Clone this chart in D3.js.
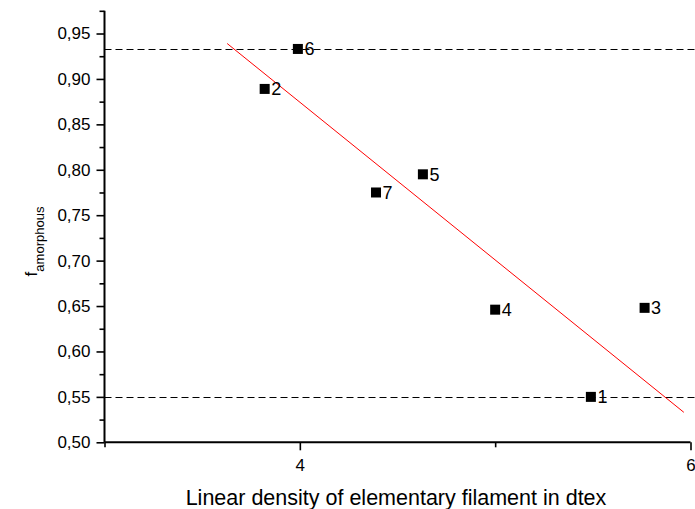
<!DOCTYPE html>
<html>
<head>
<meta charset="utf-8">
<script src="https://cdn.jsdelivr.net/npm/d3@7"></script>
<style>
  html, body { margin: 0; padding: 0; background: #fff; }
  svg { display: block; font-family: "Liberation Sans", Arial, sans-serif; }
</style>
</head>
<body>
<svg id="chart" width="695" height="509"></svg>
<script>
// ---- data ----
const pointLabels = ["1", "2", "3", "4", "5", "6", "7"];
const pointX = [5.49, 3.82, 5.765, 5.00, 4.63, 3.99, 4.39];
const pointY = [0.550, 0.889, 0.648, 0.646, 0.795, 0.933, 0.775];
const fitX = [3.628, 5.966];
const fitY = [0.939, 0.533];
const refLevels = [0.933, 0.55];
const xMajorTicks = [4, 6];
const xMinorTicks = [3, 5];
const yMajorTicks = [0.50, 0.55, 0.60, 0.65, 0.70, 0.75, 0.80, 0.85, 0.90, 0.95];
const yMinorTicks = [0.525, 0.575, 0.625, 0.675, 0.725, 0.775, 0.825, 0.875, 0.925, 0.975];
const xTitle = "Linear density of elementary filament in dtex";
const yTitleMain = "f";
const yTitleSub = "amorphous";

// ---- layout ----
const W = 695, H = 509;
const svg = d3.select("#chart");
const x = d3.scaleLinear().domain([3, 6]).range([104.5, 690.5]);
const y = d3.scaleLinear().domain([0.5, 0.975]).range([442.3, 10.8]);
const fmt = d => d3.format(".2f")(d).replace(".", ",");

// dashed reference lines
svg.append("g").selectAll("line").data(refLevels).join("line")
  .attr("x1", x(3)).attr("x2", W)
  .attr("y1", d => Math.round(y(d)) + 0.5).attr("y2", d => Math.round(y(d)) + 0.5)
  .attr("stroke", "#000").attr("stroke-width", 1.2).attr("stroke-dasharray", "7,4");

// fit line
svg.append("line")
  .attr("x1", x(fitX[0])).attr("y1", y(fitY[0]))
  .attr("x2", x(fitX[1])).attr("y2", y(fitY[1]))
  .attr("stroke", "#ff0000").attr("stroke-width", 1);

// y axis
const yAxis = svg.append("g").attr("transform", `translate(${x(3)},0)`)
  .call(d3.axisLeft(y).tickValues(yMajorTicks).tickFormat(fmt).tickSize(8).tickPadding(6));
svg.append("g").attr("transform", `translate(${x(3)},0)`)
  .call(d3.axisLeft(y).tickValues(yMinorTicks).tickFormat("").tickSize(5))
  .select(".domain").remove();

// x axis
const xAxis = svg.append("g").attr("transform", `translate(0,${y(0.5)})`)
  .call(d3.axisBottom(x).tickValues(xMajorTicks).tickFormat(d3.format("d")).tickSize(8).tickPadding(9));
svg.append("g").attr("transform", `translate(0,${y(0.5)})`)
  .call(d3.axisBottom(x).tickValues(xMinorTicks).tickFormat("").tickSize(5))
  .select(".domain").remove();

svg.selectAll(".domain").attr("stroke-width", 2).attr("d", null);
yAxis.select(".domain").attr("d", `M0,${y(0.975)}V${y(0.5)}`);
xAxis.select(".domain").attr("d", `M${x(3)},0H${x(6)}`);
svg.selectAll(".tick line").attr("stroke-width", 1.6);
svg.selectAll(".tick text").attr("font-size", 17).attr("fill", "#000")
  .attr("font-family", "'Liberation Sans', Arial, sans-serif");

// points
const pts = pointLabels.map((l, i) => ({ l, x: pointX[i], y: pointY[i] }));
svg.append("g").selectAll("rect").data(pts).join("rect")
  .attr("x", d => x(d.x) - 5).attr("y", d => y(d.y) - 5)
  .attr("width", 10).attr("height", 10).attr("fill", "#000");
svg.append("g").selectAll("text").data(pts).join("text")
  .attr("x", d => x(d.x) + 6.5).attr("y", d => y(d.y))
  .attr("dy", "0.36em").attr("font-size", 18).attr("fill", "#000")
  .text(d => d.l);

// axis titles
svg.append("text").attr("x", 396).attr("y", 505)
  .attr("text-anchor", "middle").attr("font-size", 21.5).attr("fill", "#000")
  .text(xTitle);

const yt = svg.append("text")
  .attr("transform", "translate(37,241.5) rotate(-90)")
  .attr("text-anchor", "middle").attr("fill", "#000");
yt.append("tspan").attr("font-size", 17).text(yTitleMain);
yt.append("tspan").attr("font-size", 13).attr("dy", 7).text(yTitleSub);
</script>
</body>
</html>
